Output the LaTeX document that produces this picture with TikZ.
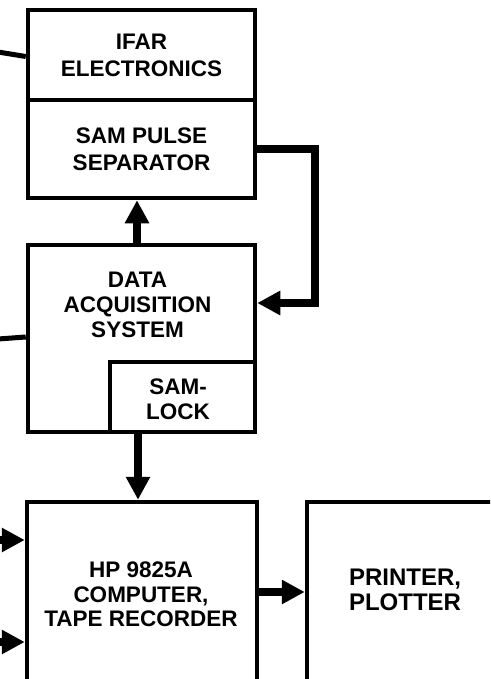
\documentclass[tikz,border=0pt]{standalone}
\usepackage{fontspec}
\setmainfont{Liberation Sans}
\usetikzlibrary{arrows.meta}
\begin{document}
\begin{tikzpicture}[x=1pt,y=-1pt,
  lbl/.style={font=\fontsize{22.5}{25}\selectfont\bfseries, align=center, inner sep=0pt},
  box/.style={draw, line width=4.5pt, inner sep=0pt, lbl},
  conn/.style={line width=8pt},
  arr/.style={conn, -{Triangle[length=23pt,width=23pt]}},
  lead/.style={line width=5pt}]
\useasboundingbox (0,0) rectangle (490,679);
\clip (0,0) rectangle (490,679);
% boxes
\node[box, minimum width=227pt, minimum height=90pt, font=\fontsize{22.5}{27}\selectfont\bfseries] (ifar) at (141.5,55) {IFAR\\ELECTRONICS};
\node[box, minimum width=227pt, minimum height=98pt, font=\fontsize{22.5}{27}\selectfont\bfseries] (pulse) at (141.5,149) {SAM PULSE\\SEPARATOR};
\node[box, minimum width=227pt, minimum height=187pt] (daq) at (141.5,338.5) {};
\node[box, minimum width=145pt, minimum height=70pt] (lock) at (182.5,397) {};
\node[lbl] (daqt) at (137.5,305) {DATA\\ACQUISITION\\SYSTEM};
\node[lbl] (lockt) at (178,399.5) {SAM-\\LOCK};
\node[box, minimum width=230pt, minimum height=218pt] (comp) at (142,611) {};
\node[lbl, font=\fontsize{22.5}{24.5}\selectfont\bfseries] (compt) at (141,594.5) {HP 9825A\\COMPUTER,\\TAPE RECORDER};
\node[box, minimum width=188pt, minimum height=218pt] (prn) at (401,611) {};
\node[lbl, font=\fontsize{24}{25}\selectfont\bfseries] (prnt) at (405,589.5) {PRINTER,\\PLOTTER};
% connectors
\coordinate (ux) at (137,0);
\draw[arr] (daq.north -| ux) -- (pulse.south -| ux);
\coordinate (dx) at (138,0);
\draw[arr] (daq.south -| dx) -- (comp.north -| dx);
\coordinate (br) at (315,303);
\draw[arr] (pulse.east) -| (br) -- (daq.east |- br);
\coordinate (py) at (0,592);
\draw[arr] (comp.east |- py) -- (prn.west |- py);
\coordinate (in1) at (-6,540);
\coordinate (in2) at (-6,642);
\draw[arr] (in1) -- (comp.west |- in1);
\draw[arr] (in2) -- (comp.west |- in2);
\coordinate (lin1) at (-2,52);
\coordinate (e1) at (0,56.5);
\draw[lead] (lin1) -- (ifar.west |- e1);
\coordinate (lin2) at (-2,339);
\coordinate (e2) at (0,337);
\draw[lead] (lin2) -- (daq.west |- e2);
\end{tikzpicture}
\end{document}
